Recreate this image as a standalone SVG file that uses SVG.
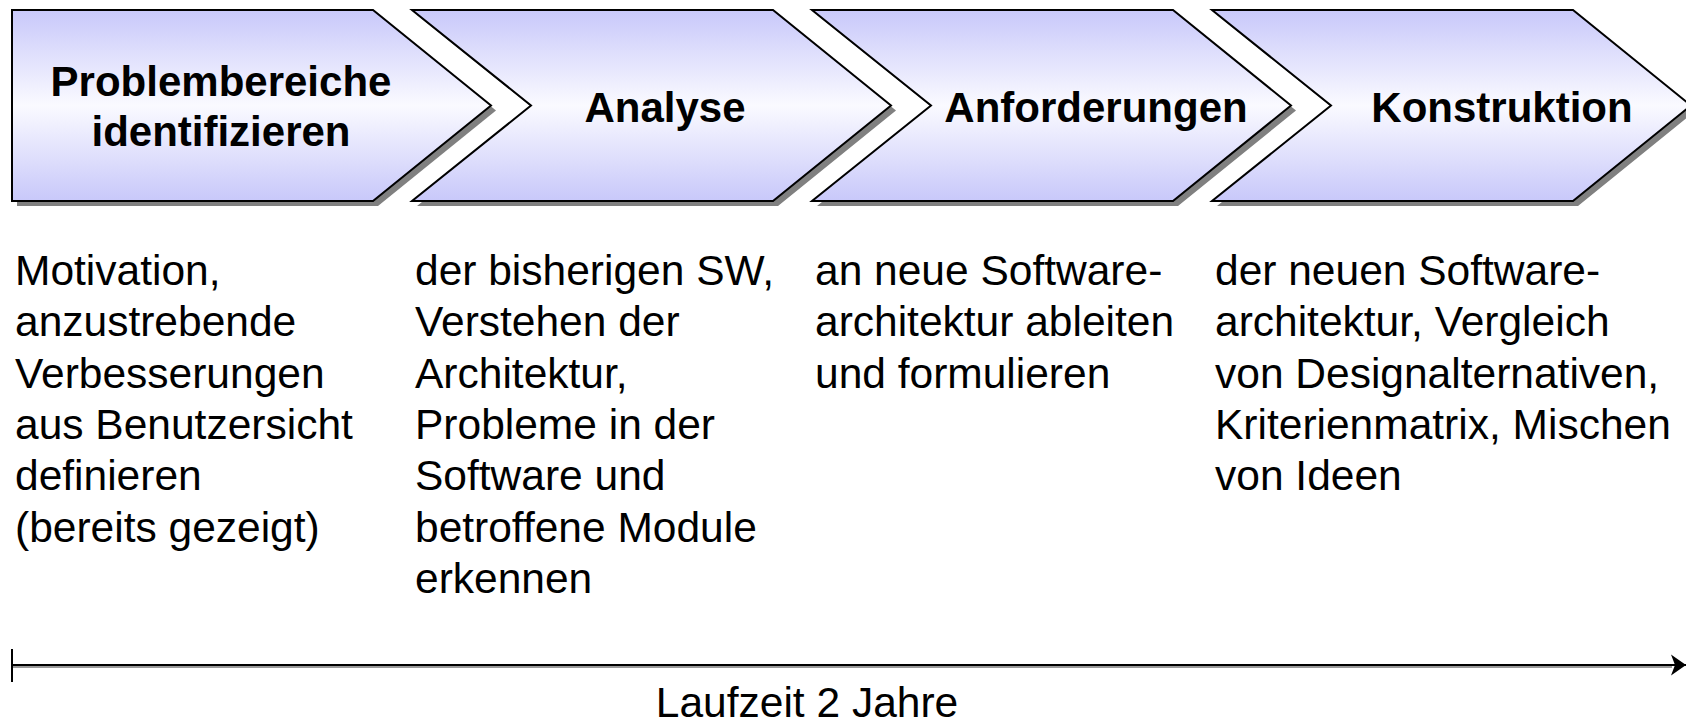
<svg xmlns="http://www.w3.org/2000/svg" width="1686" height="719" viewBox="0 0 1686 719">
  <defs>
    <linearGradient id="phaseFill" x1="0" y1="0" x2="0" y2="1">
      <stop offset="0" stop-color="#C8C8FA"/>
      <stop offset="0.5" stop-color="#FAFAFF"/>
      <stop offset="1" stop-color="#C8C8FA"/>
    </linearGradient>
    <marker id="stealth" markerUnits="userSpaceOnUse" markerWidth="16" markerHeight="22" refX="15" refY="11" orient="auto" viewBox="0 0 16 22">
      <path d="M15,11 L0,0.5 L4,11 L0,21.5 Z" fill="#000"/>
    </marker>
  </defs>
  <style>
    .shadow { fill: #808080; }
    .phase { fill: url(#phaseFill); stroke: #000; stroke-width: 2; stroke-linejoin: miter; }
    .title { font-family: "Liberation Sans", Arial, sans-serif; font-weight: bold; font-size: 42px; fill: #000; text-anchor: middle; }
    .body { font-family: "Liberation Sans", Arial, sans-serif; font-size: 42.5px; fill: #000; }
    .axis { stroke: #000; stroke-width: 2; fill: none; }
    .axis-shadow { stroke: #9a9a9a; stroke-width: 2; fill: none; }
  </style>
  <rect width="1686" height="719" fill="#fff"/>

  <!-- phase 1 -->
  <g id="phase-problembereiche">
    <path class="shadow" d="M17,15 H378 L496,110.5 L378,206 H17 Z"/>
    <path class="phase" d="M12,10 H373 L491,105.5 L373,201 H12 Z"/>
    <text class="title" x="221" y="96">Problembereiche</text>
    <text class="title" x="221" y="146">identifizieren</text>
    <text class="body">
      <tspan x="15" y="285">Motivation,</tspan>
      <tspan x="15" y="336">anzustrebende</tspan>
      <tspan x="15" y="388">Verbesserungen</tspan>
      <tspan x="15" y="439">aus Benutzersicht</tspan>
      <tspan x="15" y="490">definieren</tspan>
      <tspan x="15" y="542">(bereits gezeigt)</tspan>
    </text>
  </g>

  <!-- phase 2 -->
  <g id="phase-analyse">
    <path class="shadow" d="M417,15 H778 L896,110.5 L778,206 H417 L536,110.5 Z"/>
    <path class="phase" d="M412,10 H773 L891,105.5 L773,201 H412 L531,105.5 Z"/>
    <text class="title" x="665" y="122">Analyse</text>
    <text class="body">
      <tspan x="415" y="285">der bisherigen SW,</tspan>
      <tspan x="415" y="336">Verstehen der</tspan>
      <tspan x="415" y="388">Architektur,</tspan>
      <tspan x="415" y="439">Probleme in der</tspan>
      <tspan x="415" y="490">Software und</tspan>
      <tspan x="415" y="542">betroffene Module</tspan>
      <tspan x="415" y="593">erkennen</tspan>
    </text>
  </g>

  <!-- phase 3 -->
  <g id="phase-anforderungen">
    <path class="shadow" d="M817,15 H1178 L1296,110.5 L1178,206 H817 L936,110.5 Z"/>
    <path class="phase" d="M812,10 H1173 L1291,105.5 L1173,201 H812 L931,105.5 Z"/>
    <text class="title" x="1096" y="122">Anforderungen</text>
    <text class="body">
      <tspan x="815" y="285">an neue Software-</tspan>
      <tspan x="815" y="336">architektur ableiten</tspan>
      <tspan x="815" y="388">und formulieren</tspan>
    </text>
  </g>

  <!-- phase 4 -->
  <g id="phase-konstruktion">
    <path class="shadow" d="M1217,15 H1578 L1696,110.5 L1578,206 H1217 L1336,110.5 Z"/>
    <path class="phase" d="M1212,10 H1573 L1691,105.5 L1573,201 H1212 L1331,105.5 Z"/>
    <text class="title" x="1502" y="122">Konstruktion</text>
    <text class="body">
      <tspan x="1215" y="285">der neuen Software-</tspan>
      <tspan x="1215" y="336">architektur, Vergleich</tspan>
      <tspan x="1215" y="388">von Designalternativen,</tspan>
      <tspan x="1215" y="439">Kriterienmatrix, Mischen</tspan>
      <tspan x="1215" y="490">von Ideen</tspan>
    </text>
  </g>

  <!-- time axis -->
  <g id="connectors">
    <line class="axis-shadow" x1="13" y1="667" x2="1672" y2="667"/>
    <line class="axis" x1="12" y1="665" x2="1686" y2="665" marker-end="url(#stealth)"/>
    <line class="axis" x1="12" y1="649" x2="12" y2="682" stroke-width="2.5"/>
  </g>
  <g id="axis-label">
    <text class="body" x="807" y="717" text-anchor="middle">Laufzeit 2 Jahre</text>
  </g>
</svg>
